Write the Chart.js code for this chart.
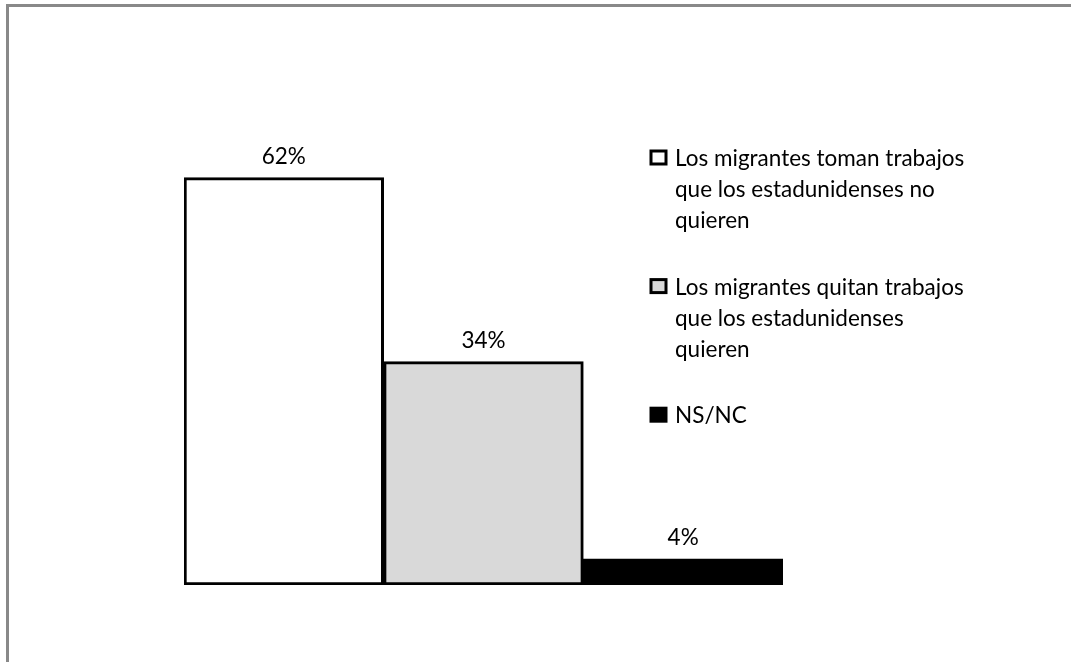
<!DOCTYPE html>
<html>
<head>
<meta charset="utf-8">
<script src="https://cdn.jsdelivr.net/npm/chart.js@4.4.0/dist/chart.umd.min.js"></script>
<style>
  html, body { margin: 0; padding: 0; background: #ffffff; }
  #wrap { position: absolute; left: 0; top: 0; width: 1071px; height: 662px; }
</style>
</head>
<body>
<div id="wrap"><canvas id="c" width="1071" height="662"></canvas></div>
<script>
// ---- data ----
const categories = [''];
const seriesLabels = [
  ['Los migrantes toman trabajos', 'que los estadunidenses no', 'quieren'],
  ['Los migrantes quitan trabajos', 'que los estadunidenses', 'quieren'],
  ['NS/NC']
];
const seriesValues = [62, 34, 4];
const seriesColors = ['#ffffff', '#d9d9d9', '#000000'];
const yMax = 70;

const FONT = '22.5px Lato, Carlito, "Open Sans", sans-serif';

const frame = {
  id: 'frame',
  beforeDraw(chart) {
    const ctx = chart.ctx;
    ctx.save();
    ctx.fillStyle = '#ffffff';
    ctx.fillRect(0, 0, chart.width, chart.height);
    ctx.strokeStyle = '#898989';
    ctx.lineWidth = 3;
    ctx.beginPath();
    ctx.moveTo(7.5, chart.height + 5);
    ctx.lineTo(7.5, 5.5);
    ctx.lineTo(chart.width + 5, 5.5);
    ctx.stroke();
    ctx.restore();
  }
};

const valueLabels = {
  id: 'valueLabels',
  afterDatasetsDraw(chart) {
    const ctx = chart.ctx;
    ctx.save();
    ctx.font = FONT;
    ctx.fillStyle = '#000000';
    ctx.textAlign = 'center';
    ctx.textBaseline = 'alphabetic';
    chart.data.datasets.forEach((ds, i) => {
      const bar = chart.getDatasetMeta(i).data[0];
      ctx.fillText(ds.data[0] + '%', bar.x, bar.y - 14);
    });
    ctx.restore();
  }
};

const sideLegend = {
  id: 'sideLegend',
  afterDraw(chart) {
    const ctx = chart.ctx;
    ctx.save();
    ctx.font = FONT;
    ctx.textAlign = 'left';
    ctx.textBaseline = 'alphabetic';
    const lineH = 31.2;
    const gap = 35;
    let base = 166;
    chart.data.datasets.forEach((ds, i) => {
      const lines = seriesLabels[i];
      // marker
      ctx.fillStyle = ds.backgroundColor;
      ctx.fillRect(651, base - 15, 15, 13);
      ctx.strokeStyle = '#000000';
      ctx.lineWidth = 3;
      ctx.strokeRect(651, base - 15, 15, 13);
      ctx.fillStyle = '#000000';
      lines.forEach((t, k) => ctx.fillText(t, 675, base + k * lineH));
      base += lines.length * lineH + gap;
    });
    ctx.restore();
  }
};

new Chart(document.getElementById('c'), {
  type: 'bar',
  data: {
    labels: categories,
    datasets: seriesValues.map((v, i) => ({
      label: seriesLabels[i].join(' '),
      data: [v],
      backgroundColor: seriesColors[i],
      borderColor: '#000000',
      borderWidth: 3,
      borderSkipped: false,
      categoryPercentage: 1,
      barPercentage: 1
    }))
  },
  options: {
    responsive: false,
    animation: false,
    layout: { padding: { left: 184, right: 288, top: 125, bottom: 77 } },
    plugins: { legend: { display: false }, tooltip: { enabled: false } },
    scales: {
      x: { display: false },
      y: { display: false, min: 0, max: yMax }
    }
  },
  plugins: [frame, valueLabels, sideLegend]
});
</script>
</body>
</html>
